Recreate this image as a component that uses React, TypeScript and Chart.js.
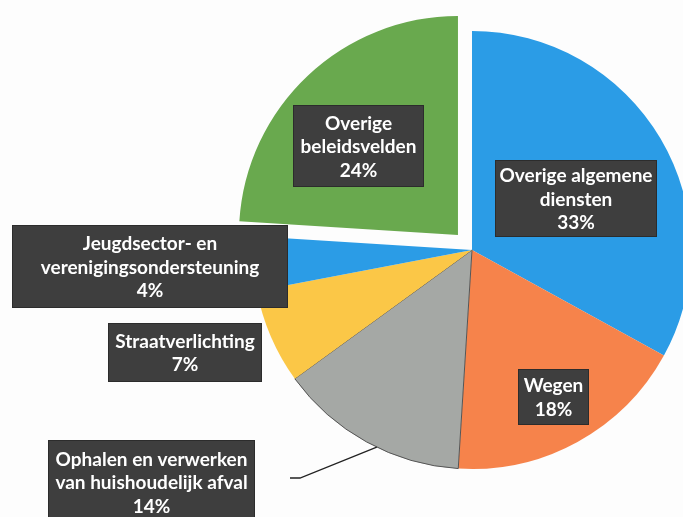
import React, { useEffect, useRef } from "react";
import { Chart, registerables } from "chart.js";

Chart.register(...registerables);

const categories = [
  "Overige algemene diensten",
  "Wegen",
  "Ophalen en verwerken van huishoudelijk afval",
  "Straatverlichting",
  "Jeugdsector- en verenigingsondersteuning",
  "Overige beleidsvelden",
];
const values = [33, 18, 14, 7, 4, 24];
const labelLines = [
  ["Overige algemene", "diensten"],
  ["Wegen"],
  ["Ophalen en verwerken", "van huishoudelijk afval"],
  ["Straatverlichting"],
  ["Jeugdsector- en", "verenigingsondersteuning"],
  ["Overige", "beleidsvelden"],
];
const colors = ["#2b9ce6", "#f6834b", "#a5a8a5", "#fbc747", "#2b9ce6", "#69a94e"];
// Chart.js draws arcs shifted by offset/4 px
const offsets = [0, 0, 0, 0, 0, 82];

// label box layout: centre x, top y, width, height
const boxLayout = [
  { cx: 576, top: 160, w: 162, h: 77 },
  { cx: 553.5, top: 369, w: 71, h: 56 },
  { cx: 151.5, top: 440, w: 207, h: 84 },
  { cx: 185, top: 323, w: 154, h: 59 },
  { cx: 150, top: 225, w: 276, h: 83 },
  { cx: 358.5, top: 105, w: 131, h: 82 },
];

const labelPlugin = {
  id: "boxLabels",
  beforeDraw(chart: any) {
    const ctx = chart.ctx;
    ctx.save();
    ctx.fillStyle = "#fdfdfd";
    ctx.fillRect(0, 0, chart.width, chart.height);
    ctx.restore();
  },
  afterDatasetsDraw(chart: any) {
    const ctx = chart.ctx;
    const meta = chart.getDatasetMeta(0);
    ctx.save();
    // leader line for "Ophalen..." label
    const arc = meta.data[2];
    const p = arc.getProps(["x", "y", "startAngle", "endAngle", "outerRadius"], true);
    const a = p.startAngle + 0.44 * (p.endAngle - p.startAngle);
    const ax = p.x + Math.cos(a) * p.outerRadius;
    const ay = p.y + Math.sin(a) * p.outerRadius;
    const b = boxLayout[2];
    ctx.strokeStyle = "#222";
    ctx.lineWidth = 1.3;
    ctx.beginPath();
    ctx.moveTo(ax, ay);
    ctx.lineTo(b.cx + b.w / 2 + 45, b.top + 38);
    ctx.lineTo(b.cx + b.w / 2 + 35, b.top + 38);
    ctx.stroke();

    ctx.font = "bold 19px Lato";
    ctx.textAlign = "center";
    ctx.textBaseline = "middle";
    const lh = 23.5;
    values.forEach((v, i) => {
      const L = boxLayout[i];
      ctx.fillStyle = "#3e3e3e";
      ctx.fillRect(L.cx - L.w / 2, L.top, L.w, L.h);
      ctx.strokeStyle = "#2c2c2c";
      ctx.lineWidth = 1;
      ctx.strokeRect(L.cx - L.w / 2 + 0.5, L.top + 0.5, L.w - 1, L.h - 1);
      const lines = [...labelLines[i], v + "%"];
      const cy = L.top + L.h / 2 + 1;
      ctx.fillStyle = "#ffffff";
      lines.forEach((t, k) => {
        const y = cy + (k - (lines.length - 1) / 2) * lh;
        ctx.fillText(t, L.cx, y);
      });
    });
    ctx.restore();
  },
};

export default function App() {
  const ref = useRef<HTMLCanvasElement>(null);
  useEffect(() => {
    if (!ref.current) return;
    const chart = new Chart(ref.current, {
      type: "pie",
      data: {
        labels: categories,
        datasets: [
          {
            data: values,
            backgroundColor: colors,
            borderColor: ["#2b9ce6", "#f6834b", "#555555", "#fbc747", "#2b9ce6", "#69a94e"],
            borderWidth: [0, 0, 1, 0, 0, 0],
            offset: offsets,
          },
        ],
      },
      options: {
        responsive: false,
        animation: false,
        radius: 219,
        layout: { padding: { left: 261, right: 0, top: 0, bottom: 17 } },
        plugins: { legend: { display: false }, tooltip: { enabled: false } },
      },
      plugins: [labelPlugin],
    });
    return () => chart.destroy();
  }, []);
  return (
    <canvas
      ref={ref}
      width={683}
      height={517}
      style={{ position: "fixed", left: 0, top: 0, width: 683, height: 517 }}
    />
  );
}
